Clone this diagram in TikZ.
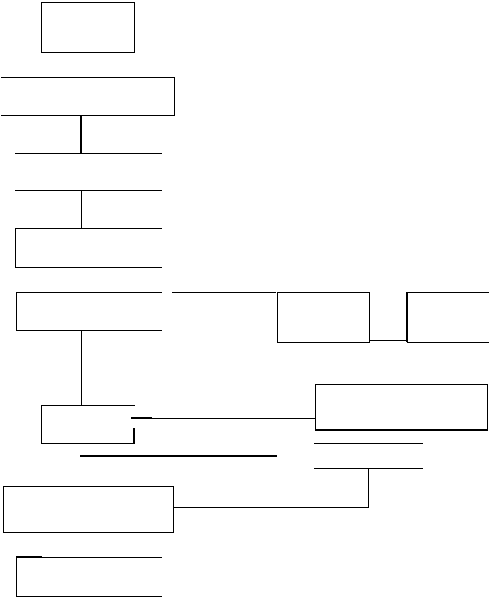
\documentclass[tikz,border=0pt]{standalone}
\usetikzlibrary{calc}

\tikzset{
  box/.style={inner sep=0pt, outer sep=0pt, draw=none},
  edge/.style={line width=1pt, line cap=rect},
  heavy/.style={line width=2pt},
}

\begin{document}
\begin{tikzpicture}[x=1pt, y=-1pt]
  \useasboundingbox (0,0) rectangle (488,597);
  % frames, given by their corners
  \foreach \name/\xa/\ya/\xb/\yb in {
      start/41/2/134/52,
      head/1/77/174/115,
      bar/15/153/161/190,
      stepa/15/228/161/267,
      stepb/16/292/161/330,
      side/277/292/369/342,
      far/407/292/488/342,
      test/41/405/134/443,
      note/315/384/487/430,
      gap/314/443/422/468,
      merge/3/486/173/532,
      stop/16/557/161/596} {
    \node[box, minimum width={(\xb-\xa)*1pt}, minimum height={(\yb-\ya)*1pt}]
      (\name) at ({(\xa+\xb)/2},{(\ya+\yb)/2}) {};
  }
  % visible sides
  \draw[edge] (start.north west) rectangle (start.south east);
  \draw[edge] (head.north west) -- (head.north east) -- (head.south east) -- (head.south west);
  \draw[edge] (bar.north west) -- (bar.north east);
  \draw[edge] (bar.south west) -- (bar.south east);
  \draw[edge] (stepa.north east) -- (stepa.north west) -- (stepa.south west) -- (stepa.south east);
  \draw[edge] (stepb.north east) -- (stepb.north west) -- (stepb.south west) -- (stepb.south east);
  \draw[edge] (side.north west) rectangle (side.south east);
  \draw[edge] (far.north east) -- (far.north west) -- (far.south west) -- (far.south east);
  \draw[heavy] (far.north west) -- (far.south west);
  \draw[edge] (test.north east) -- (test.north west) -- (test.south west) -- (test.south east);
  \draw[heavy] (test.south east) -- ($(test.south east)+(0,-15)$);
  \draw[edge] (note.north west) rectangle (note.south east);
  \draw[heavy] (note.south west) -- (note.south east);
  \draw[edge] (gap.north west) -- (gap.north east);
  \draw[edge] (gap.south west) -- (gap.south east);
  \draw[edge] (merge.north west) rectangle (merge.south east);
  \draw[edge] (stop.north east) -- (stop.north west) -- (stop.south west) -- (stop.south east);
  \draw[heavy] (stop.north west) -- ($(stop.north west)+(26,0)$);
  % connectors
  \draw[heavy] (head.south -| 81,0) -- (bar.north -| 81,0);
  \draw[edge] (bar.south -| 81,0) -- (stepa.north -| 81,0);
  \draw[edge] (stepb.south -| 81,0) -- (test.north -| 81,0);
  \draw[edge] ($(stepb.north east)+(11,0)$) -- ($(side.north west)+(-2,0)$);
  \draw[edge] ($(side.south east)+(0,-2)$) -- ($(far.south west)+(0,-2)$);
  \draw[heavy] ($(test.east)+(-3,-6)$) -- ($(test.east)+(18,-6)$);
  \draw[edge] ($(test.east)+(18,-6)$) -- (note.west |- 0,418);
  \draw[line width=1.5pt] ($(test.south west)+(39,13)$) -- ($(side.south west)+(0,114)$);
  \draw[edge] (gap.south -| 368,0) -- (368,507) -- (merge.east |- 0,507);
\end{tikzpicture}
\end{document}
